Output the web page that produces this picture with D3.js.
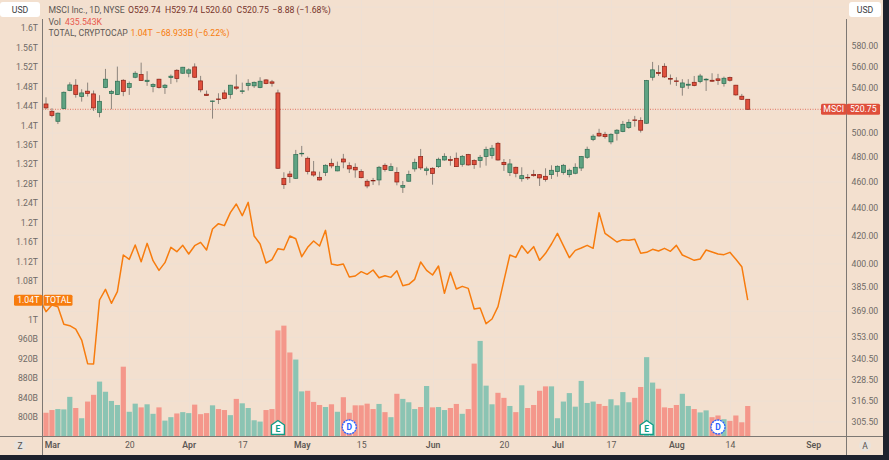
<!DOCTYPE html>
<html><head><meta charset="utf-8">
<script src="https://cdn.jsdelivr.net/npm/d3@7"></script>
<style>
html,body{margin:0;padding:0;background:#1e222d;overflow:hidden}
svg{display:block}
text{font-family:Roboto,"Noto Sans",sans-serif;font-size:8.7px}
.domain{display:none}
</style></head><body><div id="c"></div>
<script>
const open =[525.5,519,510.2,521.4,537.7,542.6,532.2,537.1,534.6,517.9,540.4,534.9,534,547.2,540.4,550,552.6,546,541.3,548.2,540.4,549.7,556.6,553.8,553.8,559.8,546.6,534.3,527.6,530,535.5,534,541,536.8,542.3,542,540.4,547.5,545.7,535.5,
462.9,466.3,462.9,482.8,479,468,463.7,467.4,474.9,468.8,478.4,473,471.7,468.2,460.6,461.3,461.6,473.3,469,467.4,455.9,460.6,470.4,480.4,469,470.9,472.2,477.6,477.9,479,474.1,482,477.1,477.1,480.4,481.2,491.4,475.7,467.4,471.7,
462.6,463.7,466,465.8,464.5,465.8,468.2,467.4,465.8,466.9,471.1,479.8,494.6,499.9,499,492.6,499.9,501.3,504.7,511.4,510.8,508.5,550,554.6,560.4,548.8,546.6,540.7,542.6,545.3,546,547.5,547.2,548.5,544.1,549.7,542.6,532.5,529.74];
const high =[531.5,521.7,517.9,536.8,545.3,548.2,538.9,545,537.7,533.4,557.9,538.3,560.1,548.2,546,555.7,563.9,555.7,544.4,548.5,543.8,552.6,557.6,559.8,558.5,563.2,551.3,537.7,528.5,535.2,538.3,542.9,552.6,545,548.2,546,550,548.2,547.5,538.5,
467.7,468.8,485.9,489.2,480.4,476.8,468.2,474.1,478.7,476.3,482.6,475.7,474.9,470.1,462.1,463.2,472.8,474.9,474.9,471.7,460.8,469,478.7,486.7,472.2,471.7,479.5,483.1,480.9,483.7,481.7,482.6,478.2,481.7,488.6,490,492.6,478.4,478.4,472.2,
471.7,466.3,469.6,466.3,470.9,473.3,473.3,474.4,470.6,474.9,480.9,488.6,499,503.7,501.1,499.9,503.4,510.5,512,514.9,513.7,547.5,564.6,561.4,563.3,552.6,550,548.2,548.2,551.2,553.2,549.1,553.8,553.2,550.6,550.6,542.9,534.6,529.74];
const low  =[520.8,513.7,507.8,520.8,537.1,531.2,527.6,532.2,519.3,513.7,539.8,520.8,533.7,532.5,533.7,549.1,546.6,542,536.1,539.5,534.6,543.8,545.3,553.2,550,549.4,536.1,532.8,512.5,525.5,529.7,530.3,538.3,534.6,537.7,540.1,539.8,543.5,541.3,470.4,
454.6,459.3,462.4,480.4,466,464.2,461.1,464.7,470.9,468.5,470.9,467.1,463.4,462.9,455.1,457.7,457.4,468.2,468.8,457.4,451.5,460.3,468.2,469.6,465.3,457.9,471.2,477.1,473,472,472.2,473,470.4,471.4,473,478.7,477.1,468.8,464.7,463.7,
460.3,461.6,464.2,456.9,460.3,462.4,464.2,465.8,463.7,466.1,468.7,478.5,493.2,496.8,495.4,490.6,493.7,500.8,503.7,505.5,500.5,507.9,546.9,551.2,549.4,543.2,541.9,533,539.2,541.6,544.4,537.3,545.7,542.9,541.3,546,533,529.1,520.6];
const close=[522,515.2,517.3,536.1,542.9,534,535.5,534.9,522,527.9,548.2,536.8,546.3,536.8,544.1,553.8,546.9,547.2,543.2,540.4,542.6,551,548.8,559.5,557,550,538.3,533.1,528.2,529.4,530.3,542.6,539.8,537.4,544.4,545.3,546.3,544.1,544.4,470.9,
457.9,464.2,482,483.1,468.2,465.5,461.6,473.3,472.8,472.5,476,470.4,469.6,463.4,456.9,461.1,471.7,469.8,472.2,460,457.2,466,475.7,471.2,470.4,466.6,478.2,480.6,477.1,472.2,480.6,473.6,473.8,479.8,486.2,487.3,477.6,473.8,474.4,466.9,
465,463.2,465,463.2,461.9,469.3,472.5,473.3,469.3,471.7,480.4,486.4,497.4,497.6,497,499,502.5,507.6,509.3,510.8,502.5,546.9,557,553.4,550.3,548.2,546,544.7,543.5,542.3,551.2,548.2,546.3,546.9,549.1,547.2,533.7,529.7,520.75];
const volumeK=[339,378,392,387,566,407,261,499,595,784,639,508,450,997,353,469,416,460,324,416,227,276,329,348,334,455,319,334,445,392,378,305,537,474,407,232,213,378,392,1515,
1583,1200,1099,644,653,494,450,421,460,353,561,339,445,445,469,392,465,348,276,610,537,489,392,421,721,416,421,378,407,465,324,392,1041,1365,726,460,624,552,436,348,
731,407,450,653,716,716,261,499,620,426,794,479,499,465,436,532,445,634,489,552,707,1133,770,682,416,407,450,610,436,392,344,373,276,300,247,223,300,203,435.543];
// TOTAL market cap (trillions); first value is the session before the first visible candle
const totalT=[1.0413,1.0166,1.0303,1.0269,0.9906,0.9878,0.9809,0.9583,0.9097,0.9090,1.0406,1.0625,1.0338,1.0578,1.1332,1.1242,1.1537,1.1194,1.1571,1.1215,1.1016,1.1174,1.1489,1.1400,1.1530,1.1352,1.1523,1.1592,1.1434,1.1866,1.1976,1.1935,1.2202,1.2380,1.2140,1.2415,1.1722,1.1558,1.1167,1.1236,
1.1462,1.1441,1.1722,1.1667,1.1297,1.1489,1.1620,1.1517,1.1839,1.1146,1.1119,1.1146,1.0879,1.0900,1.0989,1.0934,1.1023,1.0865,1.0906,1.0872,1.1009,1.0701,1.0728,1.0831,1.1188,1.1016,1.0920,1.1105,1.0543,1.0975,1.0632,1.0687,1.0646,1.0221,1.0242,0.9919,1.0015,1.0269,1.0804,1.1332,
1.1283,1.1523,1.1366,1.1503,1.1222,1.1366,1.1558,1.1777,1.1523,1.1277,1.1427,1.1475,1.1530,1.1469,1.2202,1.1777,1.1688,1.1599,1.1647,1.1633,1.1654,1.1366,1.1386,1.1448,1.1414,1.1469,1.1407,1.1530,1.1332,1.1277,1.1222,1.1249,1.1434,1.1393,1.1352,1.1339,1.1386,1.1242,1.1092,1.0406];
const xTickIndex=[1,14,24,33,43,53,65,77,86,95,106,115,129];
const xTickLabels=["Mar","20","Apr","17","May","15","Jun","20","Jul","17","Aug","14","Sep"];
const monthLabels=["Mar","Apr","May","Jun","Jul","Aug","Sep"];
const leftTicks=[1.6,1.56,1.52,1.48,1.44,1.4,1.36,1.32,1.28,1.24,1.2,1.16,1.12,1.08,1,0.96,0.92,0.88,0.84,0.8];
const rightTicks=[580,560,540,500,480,460,440,420,400,385,369,353,340.5,328.5,316.5,305.5];
const gridPrices=[620,580,560,540,520,500,480,460,440,420,400,385,369,353,340.5,328.5,316.5,305.5];
const earningsAt=[39,101], dividendAt=[51,113];
const lastPrice=520.75, lastTotal=1.04;

const W=889,H=460,paneL=42.5,paneR=846.5,paneB=436.5,panelR=883,panelB=455;
const BG="#f3e0cf",GRID="#eee0d4",AXIS="#7d7873",TXT="#6f6a66",UP="#5fa382",DN="#e04f3c",UPB="#2a6b50",DNB="#8a1f14",ORANGE="#f77c0e";
const FS="8.7px";
const x=d3.scaleLinear().domain([0,129]).range([46,46+5.947*129]);
const yP=d3.scaleLog().domain([460,560]).range([182,66.7]);
const yT=d3.scaleLinear().domain([0.8,1.6]).range([417,28]);
const yV=d3.scaleLinear().domain([0,435.543]).range([paneB,406]);

const svg=d3.select("#c").append("svg").attr("width",W).attr("height",H);
svg.append("rect").attr("width",W).attr("height",H).attr("fill","#1e222d");
svg.append("rect").attr("width",panelR).attr("height",panelB).attr("fill",BG);
svg.append("defs").append("clipPath").attr("id","pane").append("rect").attr("x",paneL).attr("y",0).attr("width",paneR-paneL).attr("height",paneB);
const pane=svg.append("g").attr("clip-path","url(#pane)");

// grid
pane.selectAll(".gh").data(gridPrices).join("line").attr("x1",paneL).attr("x2",paneR)
 .attr("y1",d=>yP(d)).attr("y2",d=>yP(d)).attr("stroke",GRID).attr("stroke-width",1);
pane.selectAll(".gv").data(xTickIndex).join("line").attr("y1",0).attr("y2",paneB)
 .attr("x1",d=>Math.round(x(d))+.5).attr("x2",d=>Math.round(x(d))+.5).attr("stroke",GRID).attr("stroke-width",1);

// volume
pane.selectAll(".v").data(volumeK).join("rect")
 .attr("x",(d,i)=>x(i)-2.6).attr("width",5.2)
 .attr("y",d=>yV(d)).attr("height",d=>paneB-yV(d))
 .attr("fill",(d,i)=>close[i]<open[i]?"#f4978b":"#8bc4b3");

// price line
pane.append("line").attr("x1",paneL).attr("x2",paneR).attr("y1",yP(lastPrice)).attr("y2",yP(lastPrice))
 .attr("stroke","#e0604c").attr("stroke-width",1).attr("stroke-dasharray","1 1.5").attr("opacity",.85);

// candles
const cg=pane.selectAll(".c").data(open).join("g");
cg.append("line").attr("x1",(d,i)=>x(i)).attr("x2",(d,i)=>x(i))
 .attr("y1",(d,i)=>yP(high[i])).attr("y2",(d,i)=>yP(low[i])).attr("stroke","#8d857d").attr("stroke-width",1);
cg.append("rect").attr("x",(d,i)=>x(i)-2).attr("width",4)
 .attr("y",(d,i)=>yP(Math.max(open[i],close[i])))
 .attr("height",(d,i)=>Math.max(.6,Math.abs(yP(open[i])-yP(close[i]))))
 .attr("fill",(d,i)=>close[i]<open[i]?DN:UP)
 .attr("stroke",(d,i)=>close[i]<open[i]?DNB:UPB).attr("stroke-width",.7);

// TOTAL
pane.append("path").datum(totalT)
 .attr("d",d3.line().x((d,i)=>x(i-1)).y(d=>yT(d)))
 .attr("fill","none").attr("stroke",ORANGE).attr("stroke-width",1.5).attr("stroke-linejoin","round");

// events
const eg=svg.selectAll(".e").data(earningsAt).join("g").attr("transform",d=>`translate(${x(d)},0)`);
eg.append("path").attr("d","M-6.5,434.5V425L0,420.5L6.5,425V434.5Z").attr("fill","#fff").attr("stroke","#0f9d86").attr("stroke-width",1.4);
eg.append("text").attr("y",431.5).attr("text-anchor","middle").attr("fill","#0f9d86").style("font-size","8.5px").style("font-weight",700).text("E");
const dg=svg.selectAll(".d").data(dividendAt).join("g").attr("transform",d=>`translate(${x(d)},427)`);
dg.append("circle").attr("r",7).attr("fill","#fff").attr("stroke","#2962ff").attr("stroke-width",1.3).attr("stroke-dasharray","2.2 .7");
dg.append("text").attr("y",3).attr("text-anchor","middle").attr("fill","#2962ff").style("font-size","8.5px").style("font-weight",700).text("D");

// axes
svg.append("line").attr("x1",paneL).attr("x2",paneL).attr("y1",19).attr("y2",panelB).attr("stroke",AXIS);
svg.append("line").attr("x1",paneR).attr("x2",paneR).attr("y1",19).attr("y2",panelB).attr("stroke",AXIS);
svg.append("line").attr("x1",0).attr("x2",panelR).attr("y1",paneB).attr("y2",paneB).attr("stroke",AXIS);

const fmtLeft=d=>d>=1?d3.format("~g")(d)+"T":Math.round(d*1000)+"B";
const aL=svg.append("g").attr("transform",`translate(${paneL},0)`)
 .call(d3.axisLeft(yT).tickValues(leftTicks).tickSize(0).tickPadding(4.5).tickFormat(fmtLeft));
const aR=svg.append("g").attr("transform",`translate(${paneR},0)`)
 .call(d3.axisRight(yP).tickValues(rightTicks).tickSize(0).tickPadding(5).tickFormat(d3.format(".2f")));
const aB=svg.append("g").attr("transform",`translate(0,${paneB})`)
 .call(d3.axisBottom(x).tickValues(xTickIndex).tickSize(0).tickPadding(5).tickFormat((d,i)=>xTickLabels[i]));
[aL,aR,aB].forEach(a=>a.selectAll("text").attr("fill",TXT).style("font-size",FS).style("font-family","Roboto,sans-serif"));
aB.selectAll("text").style("font-weight",d=>monthLabels.includes(xTickLabels[xTickIndex.indexOf(d)])?600:400).attr("fill","#5d5854");

// buttons
function btn(px,py,w,h,t){
 svg.append("rect").attr("x",px).attr("y",py).attr("width",w).attr("height",h).attr("rx",3).attr("fill","#fff");
 svg.append("text").attr("x",px+w/2).attr("y",py+h/2+3).attr("text-anchor","middle").attr("fill","#3c3c40").text(t);
}
btn(0,2,40,15,"USD"); btn(849,2,32,15,"USD");
function round(cx,t){
 svg.append("circle").attr("cx",cx).attr("cy",445.5).attr("r",6).attr("fill","#e9e3dd");
 svg.append("text").attr("x",cx).attr("y",448.5).attr("text-anchor","middle").attr("fill","#55514e").style("font-size","8.5px").text(t);
}
round(20,"Z"); round(865,"A");

// tags
function tag(px,py,w,h,fill,t){
 svg.append("rect").attr("x",px).attr("y",py).attr("width",w).attr("height",h).attr("rx",1.5).attr("fill",fill);
 svg.append("text").attr("x",px+w/2).attr("y",py+h/2+3).attr("text-anchor","middle").attr("fill","#fff").style("font-size",FS).text(t);
}
const yp=yP(lastPrice), yt=yT(lastTotal);
tag(821,yp-5.5,25.5,11,"#df4f3b","MSCI");
tag(846.5,yp-5.5,33.5,11,"#df4f3b",d3.format(".2f")(lastPrice));
tag(14,yt-5.5,28.5,11,ORANGE,"1.04T");
tag(43.5,yt-5.5,29,11,ORANGE,"TOTAL");

// header legend
const hdr=(px,py,t,f)=>svg.append("text").attr("x",px).attr("y",py).attr("fill",f).style("font-size",FS).text(t);
const DK="#77332a", NT="#5d5854";
hdr(48.5,13,"MSCI Inc., 1D, NYSE",NT);
hdr(128,13,"O529.74",DK); hdr(165,13,"H529.74",DK); hdr(200.5,13,"L520.60",DK); hdr(236.5,13,"C520.75",DK);
hdr(272.5,13,"−8.88 (−1.68%)",DK);
hdr(48.5,24.5,"Vol",NT); hdr(65,24.5,"435.543K","#e8584d");
hdr(48.5,36,"TOTAL, CRYPTOCAP",NT); hdr(130.5,36,"1.04T",ORANGE); hdr(156,36,"−68.933B (−6.22%)",ORANGE);
</script></body></html>
